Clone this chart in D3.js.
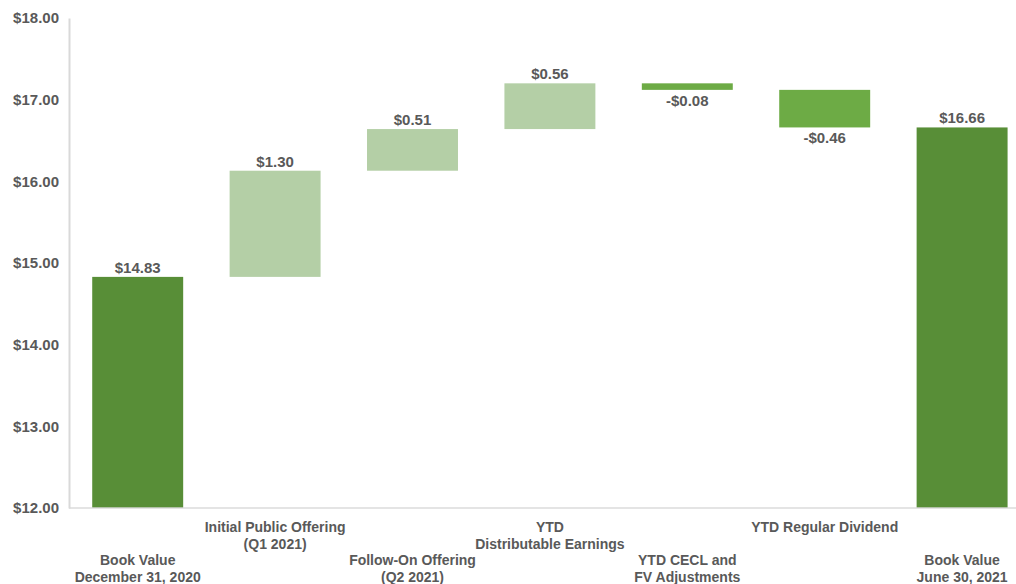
<!DOCTYPE html>
<html>
<head>
<meta charset="utf-8">
<script src="https://cdn.jsdelivr.net/npm/d3@7"></script>
<style>
  body { margin: 0; background: #fff; }
  text { font-family: "Liberation Sans", Arial, sans-serif; font-weight: bold; fill: #595959; }
</style>
</head>
<body>
<script>
// waterfall data: book value walk
var categories = [
  ["Book Value", "December 31, 2020"],
  ["Initial Public Offering", "(Q1 2021)"],
  ["Follow-On Offering", "(Q2 2021)"],
  ["YTD", "Distributable Earnings"],
  ["YTD CECL and", "FV Adjustments"],
  ["YTD Regular Dividend"],
  ["Book Value", "June 30, 2021"]
];
var changes = [14.83, 1.30, 0.51, 0.56, -0.08, -0.46, 16.66];
var kinds = ["total", "up", "up", "up", "down", "down", "total"];
var valueLabels = ["$14.83", "$1.30", "$0.51", "$0.56", "-$0.08", "-$0.46", "$16.66"];
var yTicks = [12, 13, 14, 15, 16, 17, 18];

var W = 1016, H = 584;
var AXIS_X = 69, BASE_Y = 508, TOP_Y = 18;

var svg = d3.select("body").append("svg")
  .attr("width", W)
  .attr("height", H);

var x = d3.scaleBand()
  .domain(d3.range(categories.length))
  .range([AXIS_X, AXIS_X + 7 * 137.4])
  .paddingInner(0.338)
  .paddingOuter(0.169);

var y = d3.scaleLinear()
  .domain([12, 18])
  .range([BASE_Y, TOP_Y]);

var color = { total: "#588e37", up: "#b4cfa6", down: "#6dab45" };

// build start/end for each step
var running = 0;
var steps = changes.map(function(v, i) {
  var s;
  if (kinds[i] === "total") {
    s = { lo: y.domain()[0], hi: v, top: v };
    running = v;
  } else {
    var a = running, b = running + v;
    s = { lo: Math.min(a, b), hi: Math.max(a, b), top: Math.max(a, b) };
    running = b;
  }
  s.i = i;
  s.kind = kinds[i];
  return s;
});

// y axis
var yAxis = svg.append("g")
  .attr("transform", "translate(" + AXIS_X + ",0)")
  .call(d3.axisLeft(y).tickValues(yTicks).tickSize(0).tickPadding(10)
    .tickFormat(function(d) { return "$" + d3.format(".2f")(d); }));
yAxis.select(".domain").attr("stroke", "#d9d9d9").attr("stroke-width", 2);
yAxis.selectAll("text").style("font-size", "15px").attr("fill", "#595959");

// bars
svg.selectAll("rect.bar")
  .data(steps)
  .enter()
  .append("rect")
  .attr("class", "bar")
  .attr("x", function(d) { return x(d.i); })
  .attr("width", x.bandwidth())
  .attr("y", function(d) { return y(d.hi); })
  .attr("height", function(d) { return y(d.lo) - y(d.hi); })
  .attr("fill", function(d) { return color[d.kind]; });

// baseline
svg.append("line")
  .attr("x1", AXIS_X).attr("x2", W)
  .attr("y1", BASE_Y).attr("y2", BASE_Y)
  .attr("stroke", "#d9d9d9")
  .attr("stroke-width", 2)
  .attr("opacity", 0.7);

// value labels
svg.selectAll("text.val")
  .data(steps)
  .enter()
  .append("text")
  .attr("class", "val")
  .attr("x", function(d) { return x(d.i) + x.bandwidth() / 2; })
  .attr("y", function(d) {
    return d.kind === "down" ? y(d.lo) + 16 : y(d.hi) - 4;
  })
  .attr("text-anchor", "middle")
  .style("font-size", "15px")
  .text(function(d) { return valueLabels[d.i]; });

// category labels, staggered
var cat = svg.selectAll("text.cat")
  .data(categories)
  .enter()
  .append("text")
  .attr("class", "cat")
  .attr("text-anchor", "middle")
  .style("font-size", "14px")
  .attr("transform", function(d, i) {
    var cy = i % 2 === 0 ? 565 : 532;
    return "translate(" + (x(i) + x.bandwidth() / 2) + "," + cy + ")";
  });

cat.selectAll("tspan")
  .data(function(d) { return d; })
  .enter()
  .append("tspan")
  .attr("x", 0)
  .attr("y", function(d, j) { return j * 16.5; })
  .text(function(d) { return d; });
</script>
</body>
</html>
